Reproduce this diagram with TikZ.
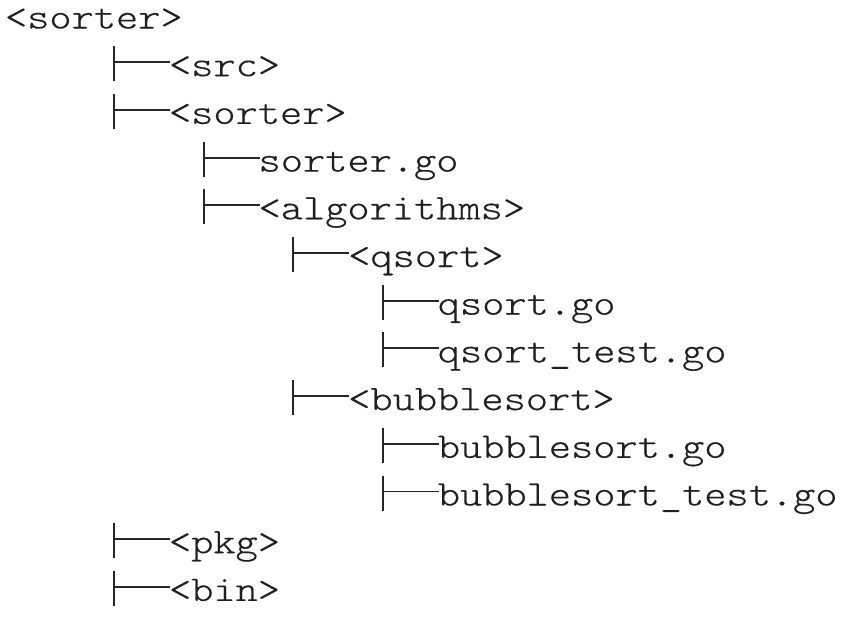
\documentclass[tikz,border=0pt]{standalone}
\usepackage{fontspec}
\usepackage{graphicx}
\newfontfamily\lightmono{lmmonolt10-regular}[Extension=.otf, FakeBold=0.35]
\usetikzlibrary{calc}
\newcommand\wide[1]{\scalebox{1.175}[1]{#1}}
\tikzset{
  entry/.style={anchor=base west, inner sep=0pt, outer sep=0pt,
    font=\lightmono\fontsize{36}{42}\selectfont, text=black!88},
  branch/.style={draw=black!85, line width=1.9pt}
}
\newcommand\treebranch[1]{%
  \draw[branch] ([shift={(-55,-30)}]#1.base west) -- ([shift={(-55,5)}]#1.base west);
  \draw[branch] ([shift={(-55,-14)}]#1.base west) -- ([shift={(1,-14)}]#1.base west);
}
\begin{document}
\begin{tikzpicture}[x=1pt,y=-1pt]
\useasboundingbox (0,0) rectangle (848,616);
\def\rowy#1{28.5+47.7*#1}
\def\lvlx#1{169+89.6*(#1-1)}
\node[entry] (root) at (5,{\rowy{0}}) {\wide{<sorter>}};
\node[entry] (src) at ({\lvlx{1}},{\rowy{1}}) {\wide{<src>}};
\node[entry] (sorter) at ({\lvlx{1}},{\rowy{2}}) {\wide{<sorter>}};
\node[entry] (sortergo) at ({\lvlx{2}},{\rowy{3}}) {\wide{sorter.go}};
\node[entry] (algo) at ({\lvlx{2}},{\rowy{4}}) {\wide{<algorithms>}};
\node[entry] (qsort) at ({\lvlx{3}},{\rowy{5}}) {\wide{<qsort>}};
\node[entry] (qsortgo) at ({\lvlx{4}},{\rowy{6}}) {\wide{qsort.go}};
\node[entry] (qsorttest) at ({\lvlx{4}},{\rowy{7}}) {\wide{qsort\_test.go}};
\node[entry] (bubble) at ({\lvlx{3}},{\rowy{8}}) {\wide{<bubblesort>}};
\node[entry] (bubblego) at ({\lvlx{4}},{\rowy{9}}) {\wide{bubblesort.go}};
\node[entry] (bubbletest) at ({\lvlx{4}},{\rowy{10}}) {\wide{bubblesort\_test.go}};
\node[entry] (pkg) at ({\lvlx{1}},{\rowy{11}}) {\wide{<pkg>}};
\node[entry] (bin) at ({\lvlx{1}},{\rowy{12}}) {\wide{<bin>}};
\foreach \n in {src,sorter,sortergo,algo,qsort,qsortgo,qsorttest,bubble,bubblego,bubbletest,pkg,bin}{\treebranch{\n}}
\end{tikzpicture}
\end{document}
